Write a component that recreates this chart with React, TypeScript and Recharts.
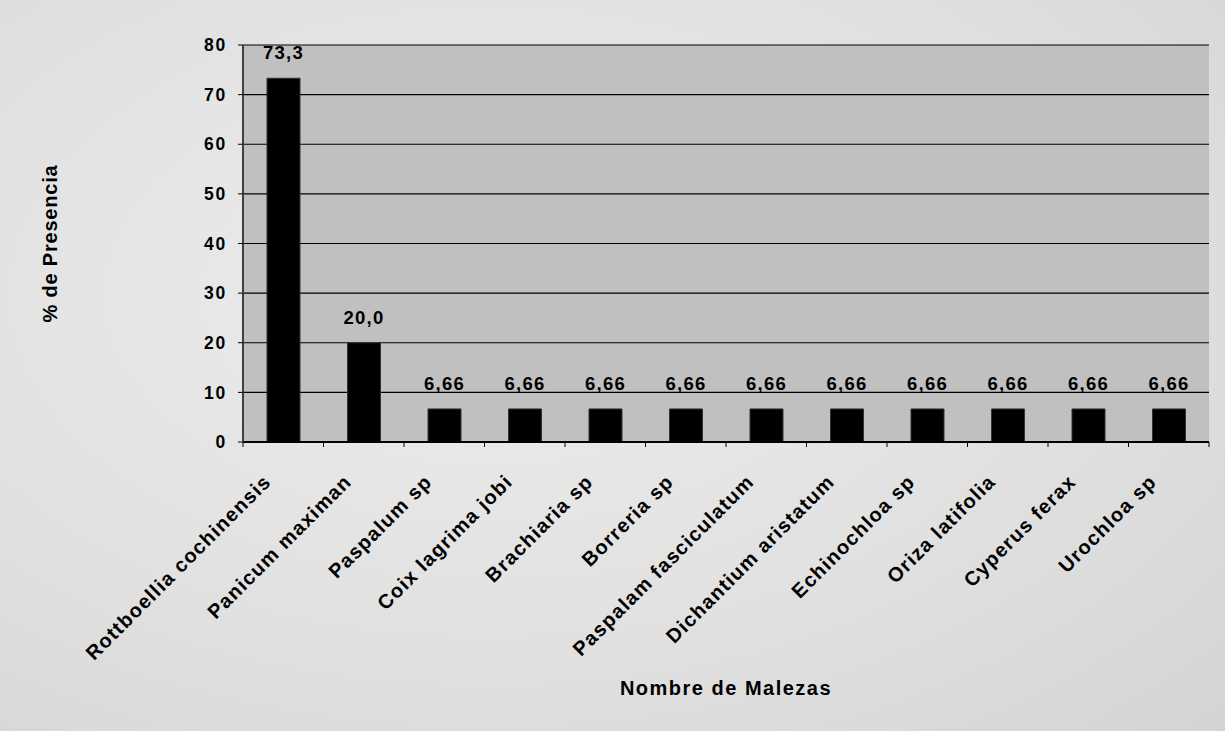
import React from 'react';
import { BarChart, Bar, XAxis, YAxis, CartesianGrid, LabelList, Label } from 'recharts';

const categories = [
  'Rottboellia cochinensis',
  'Panicum maximan',
  'Paspalum sp',
  'Coix lagrima jobi',
  'Brachiaria sp',
  'Borreria sp',
  'Paspalam fasciculatum',
  'Dichantium aristatum',
  'Echinochloa sp',
  'Oriza latifolia',
  'Cyperus ferax',
  'Urochloa sp',
];
const values = [73.3, 20.0, 6.66, 6.66, 6.66, 6.66, 6.66, 6.66, 6.66, 6.66, 6.66, 6.66];
const valueLabels = ['73,3', '20,0', '6,66', '6,66', '6,66', '6,66', '6,66', '6,66', '6,66', '6,66', '6,66', '6,66'];
const yTicks = [0, 10, 20, 30, 40, 50, 60, 70, 80];

const xTitle = 'Nombre de Malezas';
const yTitle = '% de Presencia';

const data = categories.map((name, i) => ({ name, value: values[i], label: valueLabels[i] }));

const W = 1225;
const H = 731;
const margin = { top: 45, right: 16, bottom: 0, left: 0 };
const Y_AXIS_W = 243;
const X_AXIS_H = H - 442;
const PLOT_W = W - Y_AXIS_W - margin.right;

const FONT = '"Liberation Sans", Arial, sans-serif';

const XTick = (props: any) => {
  const { x, y, payload, index } = props;
  const band = PLOT_W / categories.length;
  return (
    <g>
      <line x1={x - band / 2} y1={y} x2={x - band / 2} y2={y + 5} stroke="#000" strokeWidth={1} />
      {index === categories.length - 1 && (
        <line x1={x + band / 2} y1={y} x2={x + band / 2} y2={y + 5} stroke="#000" strokeWidth={1} />
      )}
      <text
        transform={`translate(${x - 11},${y + 41}) rotate(-45)`}
        textAnchor="end"
        fontFamily={FONT}
        fontWeight="bold"
        fontSize={20}
        letterSpacing={1.2}
        fill="#000"
      >
        {payload.value}
      </text>
    </g>
  );
};

const YTitle = (props: any) => {
  const vb = props.viewBox || {};
  const cy = (vb.y ?? 45) + (vb.height ?? 397) / 2;
  return (
    <text
      transform={`translate(57,${cy}) rotate(-90)`}
      textAnchor="middle"
      fontFamily={FONT}
      fontWeight="bold"
      fontSize={20}
      letterSpacing={0.8}
      fill="#000"
    >
      {yTitle}
    </text>
  );
};

const XTitle = (props: any) => {
  const vb = props.viewBox || {};
  const cx = (vb.x ?? 243) + (vb.width ?? PLOT_W) / 2;
  return (
    <text
      x={cx}
      y={695}
      textAnchor="middle"
      fontFamily={FONT}
      fontWeight="bold"
      fontSize={20}
      letterSpacing={1.5}
      fill="#000"
    >
      {xTitle}
    </text>
  );
};

export default function App() {
  return (
    <div
      style={{
        position: 'absolute',
        left: 0,
        top: 0,
        width: W,
        height: H,
        background: 'radial-gradient(ellipse at 40% 40%, #ededed 0%, #e0e0e0 60%, #d4d4d4 100%)',
      }}
    >
      <BarChart width={W} height={H} data={data} margin={margin} barCategoryGap="59%">
        <CartesianGrid vertical={false} stroke="#000" strokeWidth={1.2} fill="#c0c0c0" fillOpacity={1} />
        <XAxis
          dataKey="name"
          interval={0}
          height={X_AXIS_H}
          tickSize={0}
          tickMargin={0}
          tickLine={false}
          axisLine={{ stroke: '#000', strokeWidth: 2 }}
          tick={<XTick />}
        >
          <Label content={<XTitle />} />
        </XAxis>
        <XAxis
          xAxisId="top"
          dataKey="name"
          orientation="top"
          height={0}
          tick={false}
          tickLine={false}
          axisLine={{ stroke: '#808080', strokeWidth: 2 }}
        />
        <YAxis
          domain={[0, 80]}
          ticks={yTicks}
          width={Y_AXIS_W}
          tickSize={5}
          tickMargin={11}
          axisLine={{ stroke: '#404040', strokeWidth: 2 }}
          tickLine={{ stroke: '#000' }}
          tick={{ fill: '#000', fontFamily: FONT, fontWeight: 'bold', fontSize: 17.5, letterSpacing: 1.8 }}
          interval={0}
        >
          <Label content={<YTitle />} />
        </YAxis>
        <YAxis
          yAxisId="right"
          orientation="right"
          domain={[0, 80]}
          width={0}
          tick={false}
          tickLine={false}
          axisLine={{ stroke: '#808080', strokeWidth: 2 }}
        />
        <Bar dataKey="value" fill="#000" stroke="#333" strokeWidth={1} barSize={33} isAnimationActive={false}>
          <LabelList
            dataKey="label"
            position="top"
            offset={19}
            fill="#000"
            fontFamily={FONT}
            fontWeight="bold"
            fontSize={18.5}
            letterSpacing={1.3}
          />
        </Bar>
      </BarChart>
    </div>
  );
}
